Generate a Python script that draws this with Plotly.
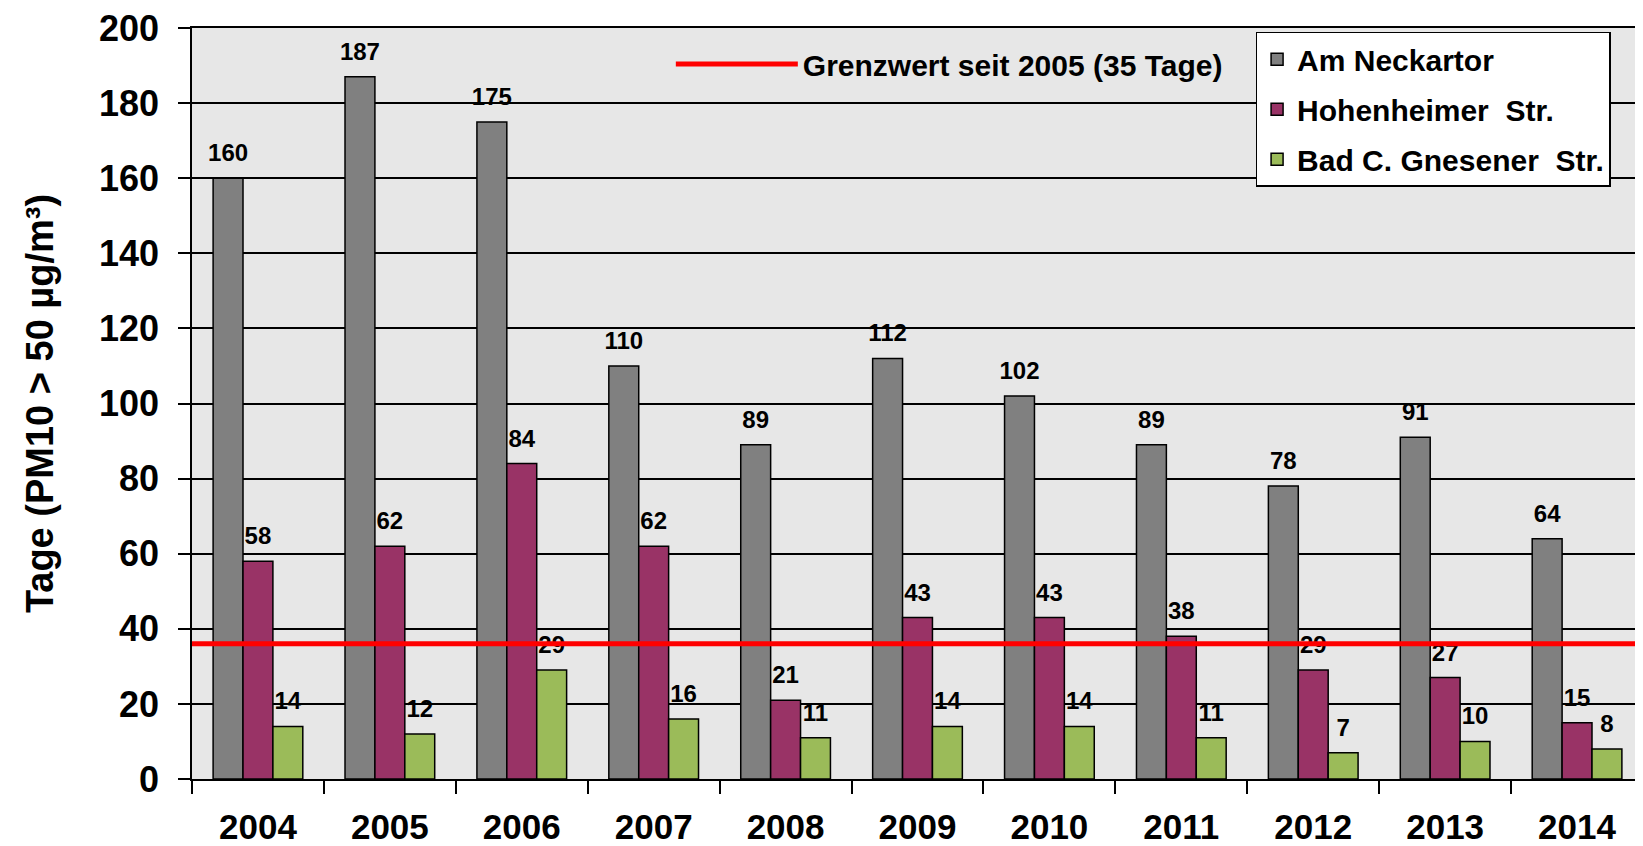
import plotly.graph_objects as go

years = ["2004", "2005", "2006", "2007", "2008", "2009", "2010", "2011", "2012", "2013", "2014"]
series_names = ["Am Neckartor", "Hohenheimer  Str.", "Bad C. Gnesener  Str."]
neckartor = [160, 187, 175, 110, 89, 112, 102, 89, 78, 91, 64]
hohenheimer = [58, 62, 84, 62, 21, 43, 43, 38, 29, 27, 15]
gnesener = [14, 12, 29, 16, 11, 14, 14, 11, 7, 10, 8]
limit_value = 36
limit_name = "Grenzwert seit 2005 (35 Tage)"
y_title = "Tage (PM10 > 50 µg/m³)"

colors = ["#808080", "#993366", "#9BBB59"]
FONT = "Liberation Sans, Arial, sans-serif"

fig = go.Figure()
all_vals = [neckartor, hohenheimer, gnesener]
for name, vals, col in zip(series_names, all_vals, colors):
    fig.add_trace(go.Bar(
        x=years, y=vals, name=name, legendgroup=name,
        marker=dict(color=col, line=dict(color="black", width=1.5)),
        hoverinfo="x+y",
    ))

# value labels, grouped like the bars
for name, vals in zip(series_names, all_vals):
    fig.add_trace(go.Scatter(
        x=years, y=vals, mode="markers+text", showlegend=False,
        text=[str(v) for v in vals], textposition="top center",
        marker=dict(size=16, color="rgba(0,0,0,0)"),
        textfont=dict(family=FONT, size=24, color="black", weight="bold"),
        cliponaxis=False, hoverinfo="skip",
    ))

fig.add_shape(
    type="line", xref="paper", x0=0, x1=1, yref="y", y0=limit_value, y1=limit_value,
    line=dict(color="#FF0000", width=5), layer="above",
    showlegend=True, legend="legend2", name=limit_name,
)

fig.update_layout(
    width=1635, height=838,
    margin=dict(l=184, r=0, t=15, b=66),
    paper_bgcolor="white", plot_bgcolor="#e7e7e7",
    font=dict(family=FONT, color="black"),
    barmode="group", bargap=0.32, bargroupgap=0,
    scattermode="group", scattergap=0.32,
    showlegend=True,
    legend=dict(
        x=0.733, y=0.995, xanchor="left", yanchor="top",
        bgcolor="white", bordercolor="black", borderwidth=1.5,
        font=dict(family=FONT, size=30, color="black", weight="bold"),
        traceorder="grouped", tracegroupgap=8, itemwidth=30,
    ),
    legend2=dict(
        x=0.330, y=0.952, xanchor="left", yanchor="middle",
        bgcolor="rgba(0,0,0,0)", borderwidth=0,
        font=dict(family=FONT, size=30, color="black", weight="bold"),
        itemwidth=122,
    ),
    xaxis=dict(
        type="category", tickson="boundaries", ticks="outside", ticklen=13,
        tickcolor="black", tickwidth=1.5, showline=True, linecolor="black", linewidth=1.5,
        mirror=True,
        tickfont=dict(family=FONT, size=35, color="black", weight="bold"),
        ticklabelstandoff=16, showgrid=False,
    ),
    yaxis=dict(
        range=[0, 200], dtick=20, ticks="outside", ticklen=12, tickcolor="black", tickwidth=1.5,
        showline=True, linecolor="black", linewidth=1.5,
        showgrid=True, gridcolor="black", gridwidth=1.5, zeroline=False,
        tickfont=dict(family=FONT, size=36, color="black", weight="bold"),
        ticklabelstandoff=12, ticklabeloverflow="allow",
        title=dict(text=y_title, standoff=34,
                   font=dict(family=FONT, size=38, color="black", weight="bold")),
    ),
)

fig.write_html("out.html")
